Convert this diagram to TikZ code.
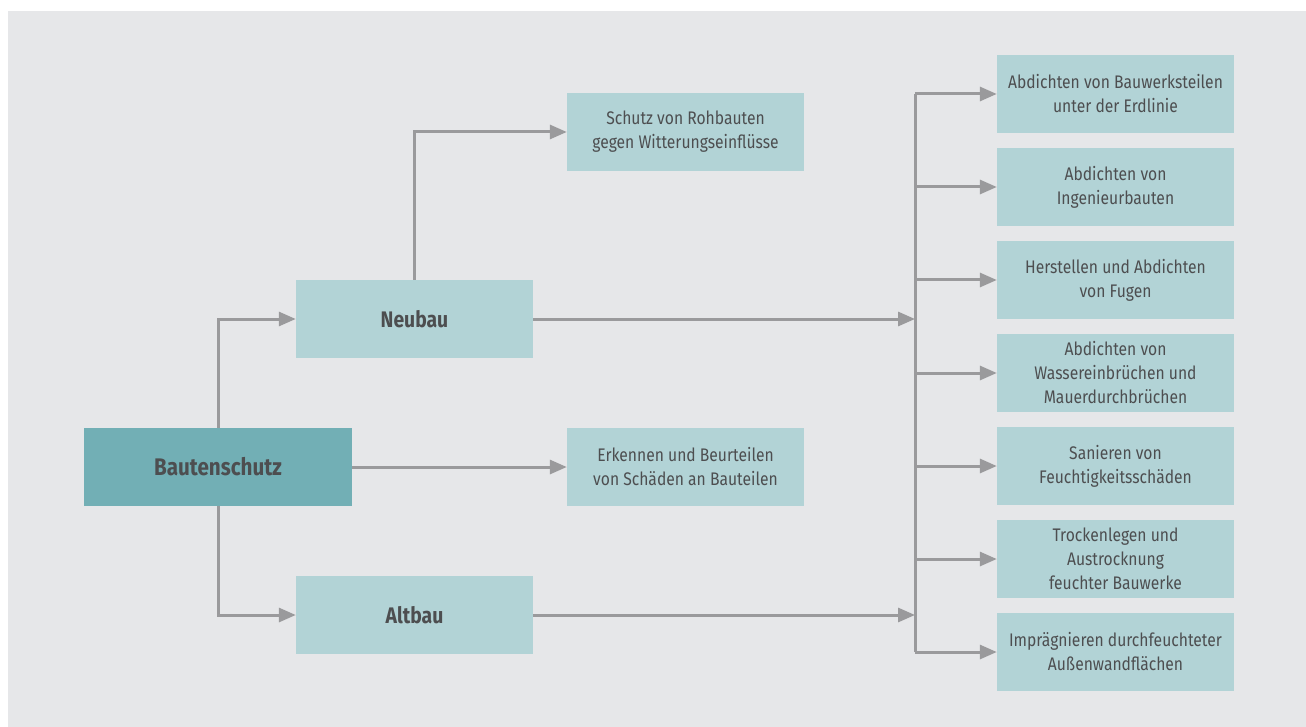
\documentclass[tikz,border=0pt]{standalone}
\usepackage{fontspec}
\setmainfont{Fira Sans}[FakeStretch=0.86]
\usetikzlibrary{arrows.meta}
\definecolor{bgcol}{HTML}{E6E7E9}
\definecolor{maincol}{HTML}{72AFB5}
\definecolor{subcol}{HTML}{B2D3D6}
\definecolor{linecol}{HTML}{9A9A9C}
\definecolor{txtcol}{HTML}{4D4E50}
\tikzset{
  box/.style={fill=subcol, minimum width=237pt, minimum height=78pt, inner sep=0pt,
    align=center, text=txtcol, font=\fontsize{18.2}{24}\selectfont},
  mainbox/.style={box, fill=maincol, minimum width=268pt,
    font=\fontsize{24}{28}\selectfont\bfseries},
  headbox/.style={box, font=\fontsize{22.5}{28}\selectfont\bfseries},
  conn/.style={draw=linecol, line width=3pt, line join=miter,
    -{Triangle[length=17pt,width=14pt]}},
  bus/.style={draw=linecol, line width=3pt}
}
\begin{document}
\begin{tikzpicture}[x=1pt,y=-1pt]
  % canvas
  \useasboundingbox (0,0) rectangle (1306,727);
  \fill[bgcol] (8,11) rectangle (1306,727);

  % main and second level
  \node[mainbox] (bs) at (218,467) {Bautenschutz};
  \node[headbox] (neu) at (414.5,319) {Neubau};
  \node[headbox] (alt) at (414.5,615) {Altbau};
  \node[box] (schutz) at (685.5,132) {Schutz von Rohbauten\\gegen Witterungseinflüsse};
  \node[box] (erk) at (685.5,467) {Erkennen und Beurteilen\\von Schäden an Bauteilen};

  % measures column
  \node[box] (r1) at (1115.5,94)  {Abdichten von Bauwerksteilen\\unter der Erdlinie};
  \node[box] (r2) at (1115.5,187) {Abdichten von\\Ingenieurbauten};
  \node[box] (r3) at (1115.5,280) {Herstellen und Abdichten\\von Fugen};
  \node[box] (r4) at (1115.5,373) {Abdichten von\\Wassereinbrüchen und\\Mauerdurchbrüchen};
  \node[box] (r5) at (1115.5,466) {Sanieren von\\Feuchtigkeitsschäden};
  \node[box] (r6) at (1115.5,559) {Trockenlegen und\\Austrocknung\\feuchter Bauwerke};
  \node[box] (r7) at (1115.5,652) {Imprägnieren durchfeuchteter\\Außenwandflächen};

  % distribution bus
  \coordinate (bt) at (915,94);
  \coordinate (bb) at (915,652);
  \draw[bus] (bt) -- (bb);

  % connectors
  \draw[conn] (bs.north) |- (neu.west);
  \draw[conn] (bs.south) |- (alt.west);
  \draw[conn] (bs.east) -- (erk.west);
  \draw[conn] (neu.north) |- (schutz.west);
  \draw[conn] (neu.east) -- (neu.east -| bt);
  \draw[conn] (alt.east) -- (alt.east -| bt);
  \foreach \r in {r1,r2,r3,r4,r5,r6,r7}
    \draw[conn] (bt |- \r.west) -- (\r.west);
\end{tikzpicture}
\end{document}
